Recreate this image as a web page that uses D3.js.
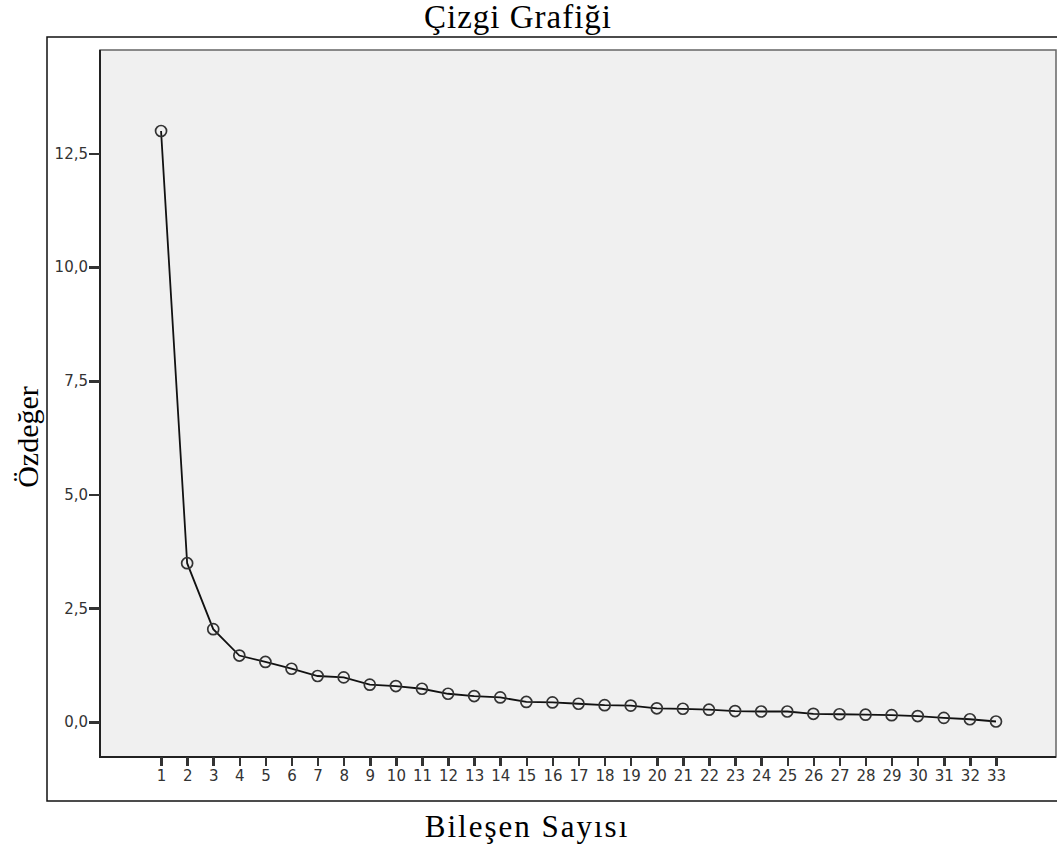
<!DOCTYPE html>
<html lang="tr">
<head>
  <meta charset="UTF-8">
  <title>Çizgi Grafiği</title>
  <script src="https://d3js.org/d3.v7.min.js"></script>
  <style>
    body { margin: 0; background: #fff; }
    .axis text { font-family: "DejaVu Sans", Verdana, sans-serif; font-size: 15px; fill: #333; }
    .axis path, .axis line { stroke: #333; stroke-width: 2.5; shape-rendering: crispEdges; }
  </style>
</head>
<body>
<script>
  // bileşen numaraları ve özdeğerler
  var components = d3.range(1, 34)
  var eigenvalues = [12.99, 3.49, 2.04, 1.46, 1.32, 1.17, 1.01, 0.98, 0.82, 0.79,
    0.73, 0.62, 0.57, 0.54, 0.44, 0.43, 0.40, 0.37, 0.36, 0.30,
    0.29, 0.27, 0.24, 0.23, 0.23, 0.18, 0.17, 0.16, 0.15, 0.13,
    0.09, 0.06, 0.01]
  var yTicks = [0, 2.5, 5, 7.5, 10, 12.5]

  var width = 1057
  var height = 850
  var plot = {left: 100, top: 50, right: 1056, bottom: 757}

  var svg = d3.select('body').append('svg')
    .attr('width', width)
    .attr('height', height)

  // outer frame
  svg.append('rect')
    .attr('x', 47).attr('y', 37)
    .attr('width', 1030).attr('height', 764)
    .attr('fill', 'none').attr('stroke', '#111').attr('stroke-width', 1.5)

  svg.append('rect')
    .attr('x', plot.left).attr('y', plot.top)
    .attr('width', plot.right - plot.left).attr('height', plot.bottom - plot.top)
    .attr('fill', '#f0f0f0').attr('stroke', '#666').attr('stroke-width', 1.5)

  // left and bottom edges are darker
  svg.append('path')
    .attr('d', 'M' + plot.left + ',' + plot.top + 'V' + plot.bottom + 'H' + plot.right)
    .attr('fill', 'none').attr('stroke', '#222').attr('stroke-width', 2)

  var x = d3.scaleLinear()
    .domain([-1.34, 35.3])
    .range([plot.left, plot.right])

  var y = d3.scaleLinear()
    .domain([-0.77, 14.77])
    .range([plot.bottom, plot.top])

  var fmt = d => d3.format('.1f')(d).replace('.', ',')

  svg.append('g')
    .attr('class', 'axis')
    .attr('transform', 'translate(0,' + plot.bottom + ')')
    .call(d3.axisBottom(x).tickValues(components).tickSize(9).tickSizeOuter(0).tickPadding(4))
    .call(g => g.select('.domain').remove())

  svg.append('g')
    .attr('class', 'axis')
    .attr('transform', 'translate(' + plot.left + ',0)')
    .call(d3.axisLeft(y).tickValues(yTicks).tickFormat(fmt).tickSize(11).tickSizeOuter(0).tickPadding(1))
    .call(g => g.select('.domain').remove())

  var line = d3.line()
    .x((d, i) => x(components[i]))
    .y(d => y(d))

  svg.append('path')
    .datum(eigenvalues)
    .attr('d', line)
    .attr('fill', 'none')
    .attr('stroke', '#111')
    .attr('stroke-width', 1.8)

  svg.selectAll('.pt')
    .data(eigenvalues)
    .enter()
    .append('circle')
    .attr('class', 'pt')
    .attr('cx', (d, i) => x(components[i]))
    .attr('cy', d => y(d))
    .attr('r', 5.5)
    .attr('fill', 'none')
    .attr('stroke', '#333')
    .attr('stroke-width', 1.7)

  // başlıklar
  svg.append('text')
    .attr('x', 518).attr('y', 28)
    .attr('text-anchor', 'middle')
    .style('font-family', '"Liberation Serif", "Times New Roman", serif')
    .style('font-size', '33px')
    .style('letter-spacing', '1px')
    .text('Çizgi Grafiği')

  svg.append('text')
    .attr('x', 527).attr('y', 837)
    .attr('text-anchor', 'middle')
    .style('font-family', '"Liberation Serif", "Times New Roman", serif')
    .style('font-size', '31px')
    .style('letter-spacing', '2px')
    .text('Bileşen Sayısı')

  svg.append('text')
    .attr('transform', 'translate(38,437) rotate(-90)')
    .attr('text-anchor', 'middle')
    .style('font-family', '"Liberation Serif", "Times New Roman", serif')
    .style('font-size', '30px')
    .text('Özdeğer')
</script>
</body>
</html>
